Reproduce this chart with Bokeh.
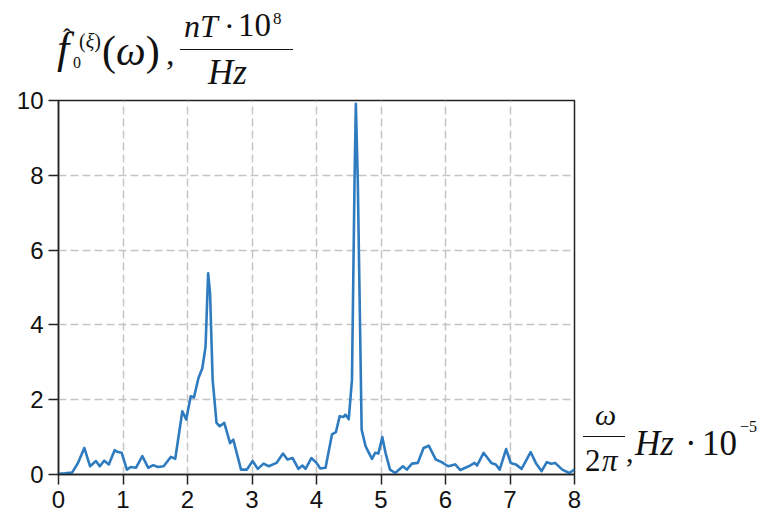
import html
from bokeh.plotting import figure
from bokeh.models import FixedTicker, Range1d, Div
from bokeh.layouts import column, row
from bokeh.embed import file_html
from bokeh.resources import INLINE

# ---- data ----
freq = [0.00, 0.10, 0.21, 0.30, 0.40, 0.49, 0.58, 0.64, 0.71, 0.78, 0.87, 0.92, 0.98,
        1.06, 1.12, 1.20, 1.30, 1.39, 1.47, 1.54, 1.63, 1.74, 1.81, 1.92, 1.98, 2.05,
        2.10, 2.17, 2.23, 2.28, 2.32, 2.35, 2.39, 2.45, 2.50, 2.57, 2.66, 2.71, 2.83,
        2.92, 3.01, 3.09, 3.18, 3.26, 3.38, 3.48, 3.55, 3.63, 3.72, 3.78, 3.83, 3.92,
        4.00, 4.06, 4.14, 4.24, 4.30, 4.36, 4.42, 4.45, 4.50, 4.55, 4.59, 4.61, 4.64,
        4.70, 4.76, 4.86, 4.91, 4.96, 5.02, 5.07, 5.14, 5.22, 5.34, 5.40, 5.48, 5.57,
        5.66, 5.74, 5.85, 5.94, 6.04, 6.15, 6.23, 6.36, 6.45, 6.49, 6.59, 6.71, 6.78,
        6.84, 6.94, 7.01, 7.09, 7.18, 7.32, 7.40, 7.49, 7.57, 7.64, 7.70, 7.81, 7.92, 8.00]
amplitude = [0.02, 0.03, 0.05, 0.30, 0.71, 0.22, 0.36, 0.22, 0.37, 0.27, 0.65, 0.60, 0.58,
             0.13, 0.20, 0.18, 0.49, 0.18, 0.25, 0.20, 0.22, 0.47, 0.42, 1.69, 1.47, 2.09,
             2.06, 2.58, 2.84, 3.42, 5.38, 4.84, 2.53, 1.38, 1.29, 1.38, 0.84, 0.93, 0.13,
             0.13, 0.36, 0.15, 0.29, 0.22, 0.31, 0.56, 0.40, 0.44, 0.15, 0.24, 0.15, 0.44,
             0.31, 0.16, 0.18, 1.07, 1.13, 1.56, 1.54, 1.60, 1.48, 2.53, 7.87, 9.91, 7.87,
             1.20, 0.76, 0.42, 0.58, 0.56, 1.00, 0.58, 0.13, 0.04, 0.22, 0.13, 0.29, 0.31,
             0.71, 0.77, 0.40, 0.33, 0.22, 0.27, 0.12, 0.22, 0.31, 0.24, 0.58, 0.31, 0.27,
             0.13, 0.68, 0.31, 0.27, 0.15, 0.60, 0.31, 0.09, 0.33, 0.29, 0.31, 0.13, 0.04, 0.13]
x_ticks = [0, 1, 2, 3, 4, 5, 6, 7, 8]
y_ticks = [0, 2, 4, 6, 8, 10]

# ---- layout (page pixels) ----
PAGE_W, PAGE_H = 760, 520
TOP_H = 88                 # height of the block holding the y-quantity label
PLOT_W = 584               # plot width; the x-quantity label sits to its right
FL, FR, FT, FB = 58, 574, 100, 474   # frame edges on the page

p = figure(width=PLOT_W, height=PAGE_H - TOP_H, output_backend="svg",
           toolbar_location=None, margin=0,
           x_range=Range1d(0, 8), y_range=Range1d(0, 10),
           min_border_left=FL, min_border_right=PLOT_W - FR,
           min_border_top=FT - TOP_H, min_border_bottom=PAGE_H - FB)
p.background_fill_color = "white"
p.border_fill_color = "white"
p.outline_line_color = "#222222"
p.outline_line_width = 1.5

for ax in (p.xaxis[0], p.yaxis[0]):
    ax.axis_line_color = "#222222"
    ax.axis_line_width = 1.5
    ax.major_tick_line_color = "#222222"
    ax.major_tick_line_width = 1.5
    ax.major_tick_in = 0
    ax.major_tick_out = 10
    ax.minor_tick_line_color = None
    ax.major_label_text_font = "Liberation Sans"
    ax.major_label_text_font_size = "24px"
    ax.major_label_text_color = "#111111"
p.xaxis.ticker = FixedTicker(ticks=x_ticks)
p.yaxis.ticker = FixedTicker(ticks=y_ticks)
p.xaxis.major_label_standoff = 6
p.yaxis.major_label_standoff = 5

for g in (p.xgrid[0], p.ygrid[0]):
    g.grid_line_color = "#c4c4c4"
    g.grid_line_dash = "8 4"
    g.grid_line_width = 1.5

p.line(freq, amplitude, line_color="#2f7bbf", line_width=2.6, line_join="round")

# ---- math-like labels as positioned HTML text ----
ASC = 0.8375   # baseline offset from top of a line-height:1 box (Liberation Serif)

def piece(text, x, base, size, italic=True, ox=0, oy=0, raw=False):
    t = text if raw else html.escape(text)
    top = base - oy - ASC * size
    st = "italic" if italic else "normal"
    return (f'<span style="position:absolute;left:{x - ox}px;top:{top:.1f}px;'
            f"font-family:'Liberation Serif',serif;font-size:{size}px;line-height:1;"
            f'font-style:{st};color:#111;white-space:nowrap">{t}</span>')

def bar(x0, x1, y, ox=0, oy=0):
    return (f'<div style="position:absolute;left:{x0 - ox}px;top:{y - oy - 0.75}px;'
            f'width:{x1 - x0}px;height:0;border-top:1.5px solid #111"></div>')

def box(parts, w, h):
    return (f'<div style="position:relative;width:{w}px;height:{h}px;overflow:visible">'
            + "".join(parts) + "</div>")

top_parts = [
    piece("f", 57, 64, 44),
    piece("\u02c6", 63, 45, 24, italic=False),
    piece("0", 73, 68, 16, italic=False),
    piece("(<i>\u03be</i>)", 79, 48, 20, italic=False, raw=True),
    piece("(<i>\u03c9</i>)", 102, 65, 42, italic=False, raw=True),
    piece(",", 166, 65, 34, italic=False),
    piece("nT", 184, 37, 32),
    piece("\u00b7", 224, 37, 32, italic=False),
    piece("10", 238, 37, 33, italic=False),
    piece("8", 273, 24, 17, italic=False),
    bar(180, 293, 50),
    piece("Hz", 208, 84, 35),
]
ox, oy = PLOT_W, TOP_H
right_parts = [
    piece("\u03c9", 595, 425, 30, ox=ox, oy=oy),
    bar(583, 625, 437, ox=ox, oy=oy),
    piece("2", 585, 471, 31, italic=False, ox=ox, oy=oy),
    piece("\u03c0", 602, 471, 31, ox=ox, oy=oy),
    piece(",", 626, 462, 30, italic=False, ox=ox, oy=oy),
    piece("Hz", 635, 455, 35, ox=ox, oy=oy),
    piece("\u00b7", 685, 455, 35, italic=False, ox=ox, oy=oy),
    piece("10", 702, 455, 35, italic=False, ox=ox, oy=oy),
    piece("\u22125", 740, 432, 16, italic=False, ox=ox, oy=oy),
]

top_div = Div(text=box(top_parts, PAGE_W, TOP_H), width=PAGE_W, height=TOP_H, margin=0)
right_div = Div(text=box(right_parts, PAGE_W - PLOT_W, PAGE_H - TOP_H),
                width=PAGE_W - PLOT_W, height=PAGE_H - TOP_H, margin=0)

layout = column(top_div, row(p, right_div, spacing=0, margin=0), spacing=0, margin=0)

open("out.html", "w").write(file_html(layout, INLINE))
